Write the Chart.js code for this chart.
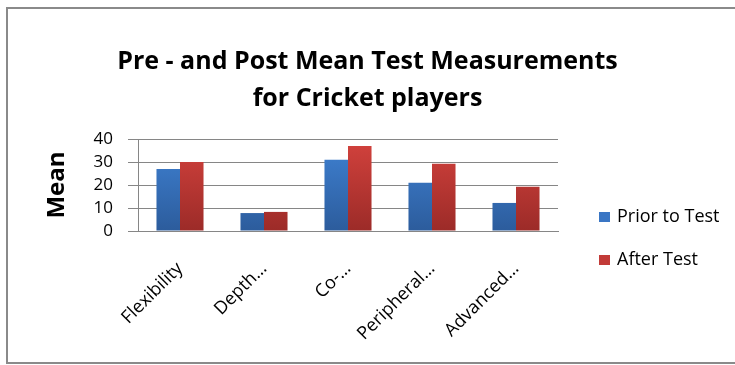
<!DOCTYPE html>
<html>
<head>
<meta charset="utf-8">
<script src="https://cdn.jsdelivr.net/npm/chart.js@4.4.1/dist/chart.umd.min.js"></script>
<style>
  html, body { margin: 0; padding: 0; background: #fff; }
</style>
</head>
<body>
<canvas id="myChart" width="735" height="365"></canvas>
<script>
// chart data
var categories = ["Flexibility", "Depth\u2026", "Co-\u2026", "Peripheral\u2026", "Advanced\u2026"];
var seriesNames = ["Prior to Test", "After Test"];
var priorValues = [27, 7.8, 31, 21, 12.2];
var afterValues = [30, 8.3, 37, 29.2, 19.2];
var yTicks = [0, 10, 20, 30, 40];

var FONT = "'Open Sans', Lato, sans-serif";

function grad(top, bottom) {
  return function (c) {
    var area = c.chart.chartArea;
    if (!area) return top;
    var g = c.chart.ctx.createLinearGradient(0, area.top, 0, area.bottom);
    g.addColorStop(0, top);
    g.addColorStop(1, bottom);
    return g;
  };
}

var legendColors = ["#3a76c4", "#c23b38"];

// grey frame round the whole chart
var framePlugin = {
  id: "frame",
  beforeDraw: function (chart) {
    var ctx = chart.ctx;
    ctx.save();
    ctx.fillStyle = "#fff";
    ctx.fillRect(0, 0, chart.width, chart.height);
    ctx.strokeStyle = "#8a8a8a";
    ctx.lineWidth = 2;
    ctx.beginPath();
    ctx.moveTo(chart.width + 2, 8);
    ctx.lineTo(7, 8);
    ctx.lineTo(7, 363);
    ctx.lineTo(chart.width + 2, 363);
    ctx.stroke();
    ctx.restore();
  }
};

// legend drawn on the right, like the original
var legendPlugin = {
  id: "sideLegend",
  afterDraw: function (chart) {
    var ctx = chart.ctx;
    var ys = [217, 260];
    ctx.save();
    ctx.font = "18px " + FONT;
    ctx.textBaseline = "middle";
    ctx.textAlign = "left";
    chart.data.datasets.forEach(function (ds, i) {
      ctx.fillStyle = legendColors[i];
      ctx.fillRect(599, ys[i] - 5, 11, 10);
      ctx.fillStyle = "#000";
      ctx.fillText(ds.label, 617, ys[i]);
    });
    ctx.restore();
  }
};

var ctx = document.getElementById("myChart").getContext("2d");

var myChart = new Chart(ctx, {
  type: "bar",
  data: {
    labels: categories,
    datasets: [
      {
        label: seriesNames[0],
        data: priorValues,
        backgroundColor: grad("#3f82d4", "#2c5c9c")
      },
      {
        label: seriesNames[1],
        data: afterValues,
        backgroundColor: grad("#d3423d", "#9c2b28")
      }
    ]
  },
  options: {
    responsive: false,
    animation: false,
    devicePixelRatio: 1,
    layout: { padding: 0 },
    datasets: {
      bar: { categoryPercentage: 0.56, barPercentage: 1 }
    },
    plugins: {
      legend: { display: false },
      tooltip: { enabled: false },
      title: {
        display: true,
        text: ["Pre - and Post Mean Test Measurements", "for Cricket players"],
        color: "#000",
        font: { family: FONT, size: 25, weight: "bold", lineHeight: 1.48 },
        padding: { top: 43.5, bottom: 21.5 }
      }
    },
    scales: {
      x: {
        grid: { display: false },
        border: { display: true, color: "#868686", width: 1 },
        ticks: {
          color: "#000",
          padding: 19,
          font: { family: FONT, size: 18 },
          minRotation: 45,
          maxRotation: 45,
          autoSkip: false
        },
        afterFit: function (scale) { scale.height = 134; }
      },
      y: {
        min: 0,
        max: 40,
        afterBuildTicks: function (scale) {
          scale.ticks = yTicks.map(function (v) { return { value: v }; });
        },
        grid: { color: "#868686", tickLength: 10 },
        border: { display: true, color: "#868686" },
        ticks: {
          color: "#000",
          padding: 15,
          autoSkip: false,
          font: { family: FONT, size: 17 }
        },
        title: {
          display: true,
          text: "Mean",
          color: "#000",
          font: { family: FONT, size: 24, weight: "bold" },
          padding: { top: 43, bottom: 0 }
        },
        afterFit: function (scale) { scale.width = 138; }
      },
      // empty space on the right that holds the legend
      side: {
        type: "linear",
        position: "right",
        grid: { display: false },
        border: { display: false },
        ticks: { display: false },
        afterFit: function (scale) { scale.width = 177; }
      }
    }
  },
  plugins: [framePlugin, legendPlugin]
});
</script>
</body>
</html>
